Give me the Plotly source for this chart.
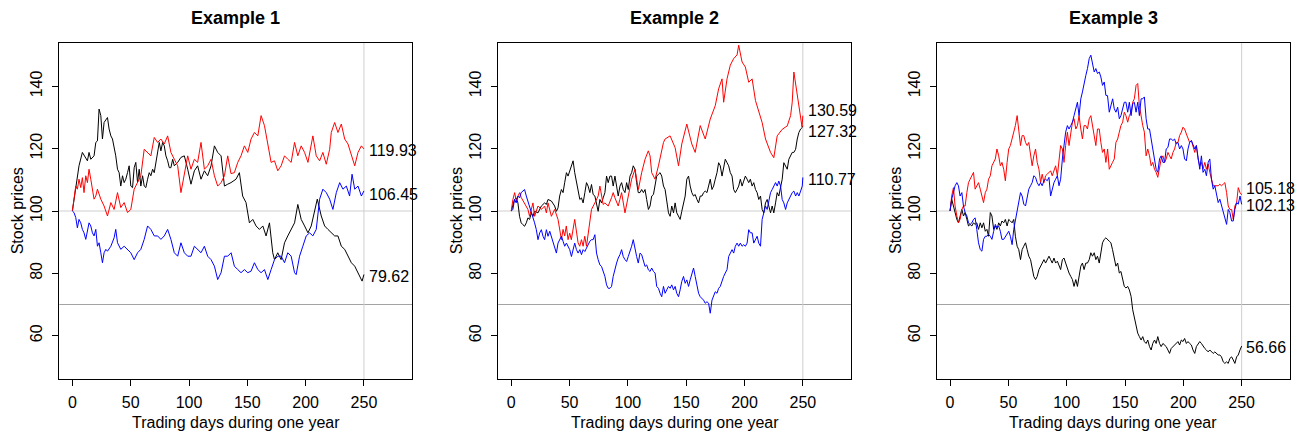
import plotly.graph_objects as go

# ---------------- data ----------------
# Example 1
p1_black_days = [0, 2.9, 5.7, 8.6, 11.5, 12.9, 14.3, 15.8, 18.6, 20.1,
    21.5, 22.9, 24.4, 25.8, 27.2, 28.7, 30.1, 31.5, 33, 34.4,
    35.8, 37.2, 38.7, 40.1, 41.5, 43, 44.4, 45.8, 47.3, 48.7,
    50.1, 51.6, 53, 54.4, 55.9, 57.3, 58.7, 60.2, 61.6, 63,
    64.5, 65.9, 67.3, 68.8, 70.2, 71.6, 73.1, 74.5, 75.9, 77.4,
    78.8, 80.2, 81.7, 83.1, 84.5, 86, 87.4, 90.3, 93.1, 96,
    98.9, 101.7, 104.6, 107.4, 110.3, 113.2, 116, 118.9, 121.8, 124.6,
    127.5, 128.9, 130.4, 133.2, 136, 140.3, 143.2, 146, 148.9, 151.8,
    154.7, 157.5, 160.4, 163.3, 166.1, 169, 171.8, 173.3, 176.1, 179,
    181.9, 184.7, 187.6, 190.5, 193.3, 196.2, 199.1, 202, 204.8, 207.7,
    210, 213.4, 216.3, 219.1, 222, 224.9, 227.7, 230.6, 233.5, 236.3,
    239.2, 242.1, 244.9, 248.4, 250]
p1_black_vals = [100, 107, 114.5, 118.8, 117.2, 116.1, 118.8, 116.6, 117.7, 122,
    122.5, 132.7, 130.6, 123.1, 128.4, 129.5, 130, 126.3, 124.1, 123.1,
    120.9, 117.7, 113.4, 112.3, 108, 111.3, 109.1, 110.2, 112.3, 114.5,
    108, 107.5, 113.9, 115.6, 109.1, 113.4, 108, 111.3, 108, 107.5,
    110.2, 112.3, 111.3, 113.4, 112.3, 115.6, 119.3, 122, 119.3, 122,
    120.9, 117.7, 116.1, 113.9, 113.9, 116.6, 114.5, 115.6, 117.2, 117.7,
    113.4, 108.6, 112.9, 114.5, 110.2, 112.9, 111.3, 114.5, 120.9, 118.8,
    117.7, 113.4, 108, 108.6, 109.1, 110.2, 112.3, 104.8, 102.7, 96.2,
    97.3, 95.2, 94.1, 95.2, 92, 96.2, 86.6, 84.4, 86.6, 84.4,
    89.8, 92, 94.1, 96.2, 102.1, 97.3, 95.2, 93, 95.2, 100.5,
    103.8, 98.4, 95.2, 94.1, 93, 92, 92, 88.7, 87.7, 85.5,
    83.4, 82.3, 80.2, 77.5, 79.62]

p1_red_days = [0, 1.4, 2.9, 4.3, 5.7, 7.2, 8.6, 10, 11.5, 12.9,
    14.3, 15.8, 17.2, 18.6, 20.1, 21.5, 24.4, 27.2, 30.1, 33,
    35.8, 38.7, 41.5, 44.4, 47.3, 50.1, 53, 55.9, 58.7, 61.6,
    64.5, 67.3, 70.2, 73.1, 75.9, 78.8, 81.7, 84.5, 87.4, 90.3,
    93.1, 96, 98.9, 101.7, 104.6, 107.4, 110.3, 113.2, 116, 118.9,
    121.8, 124.6, 127.5, 130.4, 133.2, 136, 138.9, 141.8, 144.6, 147.5,
    150.4, 153.2, 156.1, 159, 161.8, 164.7, 167.6, 170.4, 173.3, 176.1,
    179, 181.9, 184.7, 187.6, 190.5, 193.3, 196.2, 199.1, 202, 204.8,
    206.2, 209.1, 212, 214.8, 217.7, 220.6, 222, 224.9, 227.7, 230.6,
    233.5, 236.3, 239.2, 242.1, 244.9, 247.8, 250]
p1_red_vals = [100, 103.8, 108, 107, 110.2, 107.5, 110.7, 105.9, 111.3, 109.1,
    113.4, 110.2, 107, 103.8, 104.8, 107, 103.8, 101.6, 98.4, 102.7,
    100.5, 105.9, 101.1, 102.7, 99.5, 100.5, 107, 109.1, 111.3, 119.8,
    118.8, 117.7, 123.6, 122, 123.1, 121.5, 124.1, 118.8, 116.6, 114.5,
    105.9, 112.3, 117.7, 113.4, 116.6, 115.6, 122, 113.4, 114.5, 116.6,
    111.3, 108, 109.1, 111.3, 117.7, 112, 112.3, 115.6, 117.7, 120.9,
    118.8, 123.1, 125.2, 124.1, 130.6, 127.4, 122, 115.6, 116.1, 112.9,
    114.5, 117.7, 116.6, 115.6, 122, 117.7, 120.9, 118.8, 115.6, 120.9,
    124.1, 117.7, 116.1, 118.8, 115, 119.8, 125.2, 128.4, 125.2, 127.9,
    123.1, 121.5, 117.7, 114.5, 118.8, 120.9, 119.93]

p1_blue_days = [0, 1.4, 2.9, 4.3, 5.7, 7.2, 8.6, 10, 11.5, 12.9,
    14.3, 15.8, 17.2, 18.6, 20.1, 21.5, 22.9, 24.4, 25.8, 27.2,
    28.7, 30.1, 33, 35.8, 37.2, 38.7, 41.5, 44.4, 47.3, 50.1,
    53, 55.9, 58.7, 61.6, 64.5, 67.3, 70.2, 73.1, 75.9, 78.8,
    81.7, 84.5, 87.4, 90.3, 93.1, 96, 98.9, 101.7, 104.6, 107.4,
    110.3, 113.2, 116, 118.9, 121.8, 124.6, 127.5, 130.4, 133.2, 136.1,
    138.9, 141.8, 144.6, 147.5, 150.4, 153.2, 156.1, 159, 161.8, 164.7,
    167.6, 170.4, 173.3, 176.1, 179, 181.9, 184.7, 187.6, 190.5, 191.9,
    194.8, 197.6, 200.5, 203.4, 206.2, 209.1, 212, 214.8, 217.7, 220.6,
    223.4, 226.3, 229.2, 232, 234.9, 237.7, 239.8, 242.1, 244.9, 247.8,
    250]
p1_blue_vals = [100, 99.5, 97.9, 94.6, 97.3, 96.2, 94.1, 93, 90.9, 94.1,
    96.2, 95.2, 93, 92, 94.1, 88.7, 89.8, 86.6, 83.4, 86.6,
    87.7, 87.1, 88.7, 91.4, 94.1, 89.8, 87.7, 88.7, 87.7, 86.6,
    84.4, 86.6, 87.7, 90.9, 95.2, 94.1, 92, 92, 90.9, 92,
    94.1, 90.9, 86.6, 85.5, 89.8, 86.6, 85.5, 85.5, 88.7, 87.7,
    86.6, 88.7, 85.5, 84.4, 82.3, 78, 80.2, 85.5, 85.5, 86.6,
    82.3, 81.2, 80.2, 81.2, 80.2, 80.7, 83.4, 81.2, 80.2, 81.2,
    78, 81.2, 84.4, 85.5, 85.5, 83.4, 86.6, 85.5, 80.2, 79.6,
    85.5, 88.7, 92, 93, 92, 94.1, 103.8, 107, 105.9, 103.8,
    100.5, 105.9, 109.1, 107, 108, 104.8, 111.8, 107, 108, 104.8,
    106.45]

# Example 2
p2_black_days = [0, 1.4, 2.8, 4.2, 5.7, 7.1, 8.5, 10, 11.4, 12.9,
    14.3, 15.7, 17.2, 18.6, 20, 22.9, 25.8, 28.6, 30.1, 31.5,
    34.4, 37.2, 38.7, 40.1, 41.5, 43, 44.4, 45.8, 47.3, 48.7,
    50.1, 51.6, 53, 54.4, 55.9, 57.3, 58.8, 60.2, 61.6, 63.1,
    64.5, 65.9, 67.4, 68.8, 70.2, 71.7, 73.1, 74.5, 76, 77.4,
    78.8, 80.3, 81.7, 83.1, 84.6, 86, 87.4, 88.9, 90.3, 91.7,
    93.2, 94.6, 96, 97.5, 98.9, 100.3, 101.8, 103.2, 104.6, 106.1,
    107.5, 108.9, 110.4, 111.8, 113.3, 114.7, 116.1, 117.6, 119, 120.4,
    121.9, 123.3, 124.7, 126.2, 127.6, 129, 130.5, 131.9, 134.8, 136.2,
    137.6, 139.1, 140.5, 141.9, 143.4, 144.8, 146.2, 147.7, 149.1, 150.5,
    152, 153.4, 154.8, 156.3, 157.7, 159.2, 160.6, 162, 163.5, 164.9,
    166.3, 167.8, 169.2, 170.6, 172.1, 173.5, 174.9, 176.4, 177.8, 179.2,
    180.7, 182.1, 183.5, 185, 186.4, 187.8, 189.3, 190.7, 192.1, 193.6,
    195, 196.4, 197.9, 199.3, 200.7, 202.2, 203.6, 205, 206.5, 207.9,
    209.4, 210.8, 212.2, 213.7, 215.1, 216.5, 218, 219.4, 220.8, 222.3,
    223.7, 225.1, 226.6, 228, 229.4, 230.9, 232.3, 233.7, 235.2, 236.6,
    238, 239.5, 240.9, 242.3, 243.8, 245.2, 246.6, 248.1, 249.5, 250]
p2_black_vals = [100, 102.1, 103.7, 104.2, 102.6, 98.3, 96.2, 95.6, 95.1, 96.2,
    97.8, 97.3, 99.4, 98.3, 99.9, 99.4, 101.6, 102.6, 102.1, 103.7,
    103.2, 101.6, 99.9, 101, 104.8, 106.9, 105.9, 109.1, 112.3, 111.2,
    112.8, 114.5, 116.1, 112.3, 109.1, 106.9, 103.7, 104.2, 102.6, 105.9,
    109.1, 108, 105.9, 108.5, 105.3, 104.8, 102.6, 99.9, 103.7, 102.6,
    104.2, 105.9, 111.2, 109.1, 111.2, 111.2, 108, 111.2, 108, 104.8,
    108, 109.1, 106.9, 105.9, 109.1, 106.9, 111.2, 112.3, 114.5, 113.4,
    109.1, 105.9, 105.9, 106.9, 105.9, 106.9, 103.7, 100.5, 101.6, 104.8,
    105.3, 108, 111.2, 111.8, 112.3, 111.2, 108, 106.9, 99.4, 98.3,
    101.6, 99.4, 102.6, 99.4, 98.3, 97.3, 99.9, 102.6, 104.8, 110.2,
    111.2, 108, 105.9, 104.8, 105.3, 103.7, 102.6, 104.8, 104.8, 105.9,
    106.4, 105.9, 108, 110.2, 106.9, 108, 110.2, 112.3, 115.5, 114.5,
    111.2, 114.5, 116.6, 115.5, 114.5, 112.3, 111.2, 106.9, 105.9, 106.9,
    108, 110.2, 108, 109.6, 111.2, 110.2, 109.1, 110.2, 108, 109.1,
    106.9, 105.9, 103.7, 104.8, 100.5, 99.4, 102.6, 103.7, 101.6, 99.4,
    101.6, 99.4, 102.6, 105.9, 104.8, 108, 110.2, 115.5, 114.5, 113.4,
    116.6, 117.7, 118.8, 118.8, 119.8, 123.1, 125.2, 126.3, 126.8, 127.32]

p2_red_days = [0, 1.4, 2.9, 4.3, 5.7, 7.2, 8.6, 11.5, 14.3, 15.7,
    17.2, 18.6, 20, 21.5, 22.9, 25.8, 28.6, 30.1, 31.5, 34.4,
    37.2, 40.1, 41.5, 43, 44.4, 45.8, 47.2, 48.7, 50.1, 51.5,
    54.4, 55.9, 57.3, 58.7, 60.2, 61.6, 63, 64.5, 65.9, 67.3,
    68.8, 71.7, 74.5, 76, 77.4, 78.8, 80.3, 83.1, 86, 87.4,
    88.8, 91.7, 93.1, 94.6, 97.5, 100.3, 103.2, 106.1, 109, 111.8,
    114.7, 117.5, 119, 120.4, 123.3, 126.2, 129, 130.5, 131.9, 136.2,
    140.5, 143.4, 146.2, 150.5, 154.8, 157.7, 162, 166.3, 170.6, 174.9,
    177.8, 180.7, 182.1, 185, 187.8, 190.7, 193.6, 195, 197.9, 200.7,
    203.6, 206.5, 209.4, 215.1, 218, 222.3, 225.1, 228, 232.3, 236.6,
    239.5, 240.9, 242.3, 245.2, 248.1, 249.3, 250]
p2_red_vals = [100, 103.7, 105.9, 103.2, 104.8, 105.9, 104.3, 102.1, 100.5, 98.3,
    100.5, 102.6, 98.3, 100, 101.6, 100.5, 101.6, 99.4, 102.6, 98.3,
    100.5, 97.3, 93.6, 90.8, 94.1, 92, 95.2, 90.8, 92.9, 90.8,
    97.3, 93, 89.8, 88.7, 90.8, 88.7, 91.9, 88.7, 93, 97.3,
    100.5, 102.6, 104.8, 108, 104.8, 102.1, 102.6, 101.6, 104.3, 105.9,
    104.3, 101.6, 103.7, 105.9, 99.4, 104.8, 110.2, 113.4, 106.9, 112.3,
    116.6, 119.3, 117.7, 112.3, 110.2, 114.5, 118.8, 122, 123.1, 124.1,
    120.3, 114.5, 121.5, 127.9, 121.5, 118.8, 127.4, 123.1, 129.5, 133.8,
    139.2, 142.4, 134.9, 142.4, 146.8, 148.9, 150.1, 153.2, 147.8, 146.2,
    141.3, 142.4, 135.4, 128.4, 123.1, 118.8, 117.1, 124.1, 126.2, 127.3,
    130.6, 134.9, 144.6, 137.1, 130.6, 127, 130.59]

p2_blue_days = [0, 1.4, 2.8, 4.2, 5.7, 7.1, 8.5, 10, 11.4, 12.9,
    14.3, 15.7, 17.2, 18.6, 20, 21.5, 22.9, 24.4, 25.8, 27.2,
    28.6, 30.1, 31.5, 33, 34.4, 35.8, 37.2, 38.7, 40.1, 41.5,
    43, 44.4, 45.8, 47.3, 48.7, 50.1, 51.6, 53, 54.4, 55.9,
    57.3, 58.8, 60.2, 61.6, 63.1, 64.5, 65.9, 67.4, 68.8, 70.2,
    71.7, 73.1, 74.5, 76, 77.4, 78.8, 80.3, 81.7, 83.1, 84.6,
    86, 87.4, 88.9, 90.3, 91.7, 93.2, 94.6, 96, 97.5, 98.9,
    100.3, 101.8, 103.2, 104.6, 106.1, 107.5, 108.9, 110.4, 111.8, 113.3,
    114.7, 116.1, 117.6, 119, 120.4, 121.9, 123.3, 124.7, 126.2, 127.6,
    129, 130.5, 131.9, 133.3, 134.8, 136.2, 137.6, 139.1, 140.5, 141.9,
    143.4, 144.8, 146.2, 147.7, 149.1, 150.5, 152, 153.4, 154.8, 156.3,
    157.7, 159.2, 160.6, 162, 163.5, 164.9, 166.3, 167.8, 169.2, 170.6,
    172.1, 173.5, 174.9, 176.4, 177.8, 179.2, 180.7, 182.1, 183.5, 185,
    186.4, 187.8, 189.3, 190.7, 192.1, 193.6, 195, 196.4, 197.9, 199.3,
    200.7, 202.2, 203.6, 205, 206.5, 207.9, 209.4, 210.8, 212.2, 213.7,
    215.1, 216.5, 218, 219.4, 220.8, 222.3, 223.7, 225.1, 226.6, 228,
    229.4, 230.9, 232.3, 233.7, 235.2, 236.6, 238, 239.5, 240.9, 242.3,
    243.8, 245.2, 246.6, 248.1, 249.5, 250]
p2_blue_vals = [100, 100.5, 103.7, 102.6, 104.8, 104.2, 105.9, 106.4, 106.9, 104.8,
    103.2, 101.6, 99.9, 98.3, 96.2, 94, 90.8, 93, 94, 91.9,
    90.8, 94, 91.9, 93.5, 91.9, 89.7, 88.7, 86.5, 89.7, 90.8,
    91.9, 90.3, 88.7, 89.7, 88.7, 87.6, 85.4, 87.6, 89.7, 87.6,
    86.5, 87.6, 86, 87.6, 87, 88.1, 89.2, 90.3, 90.8, 90.8,
    92.4, 86.5, 84.4, 82.7, 82.2, 80.6, 79, 76.3, 75.2, 75.2,
    75.8, 79, 81.7, 83.3, 84.9, 86, 87.6, 85.4, 84.4, 83.8,
    85.4, 87, 88.7, 90.8, 87.6, 85.4, 83.3, 86.5, 86, 84.4,
    82.2, 82.7, 81.1, 80.6, 81.7, 80.6, 80.1, 75.8, 75.2, 73.6,
    72.5, 75.8, 73.6, 74.7, 75.8, 75.2, 76.3, 74.7, 75.8, 73.6,
    72.5, 74.7, 77.4, 79, 76.8, 77.9, 75.8, 77.9, 80.1, 81.7,
    79, 75.8, 73.6, 72.5, 72, 71.4, 70.4, 70.9, 70.4, 67.2,
    71.4, 72.5, 74.1, 73.6, 75.2, 75.8, 77.9, 79, 80.1, 81.2,
    85.4, 86.5, 87.6, 86.5, 88.7, 89.7, 88.7, 89.7, 88.7, 89.2,
    88.7, 89.7, 94, 93, 93, 89.7, 90.8, 91.9, 89.7, 88.7,
    97.3, 99.4, 101.6, 100.5, 103.7, 105.9, 106.9, 108, 109.1, 108,
    109.6, 108, 103.7, 102.6, 100.5, 102.6, 103.7, 104.8, 105.9, 106.4,
    104.8, 105.9, 104.8, 106.4, 108, 110.77]

# Example 3
p3_black_days = [0, 1.4, 2.9, 4.3, 5.8, 7.2, 8.6, 10.1, 11.5, 12.9,
    14.4, 15.8, 17.2, 18.7, 20.1, 21.5, 22.9, 24.4, 25.9, 27.3,
    28.7, 30.2, 31.6, 33, 34.5, 35.9, 37.4, 38.8, 40.2, 41.7,
    43.1, 44.5, 46, 47.4, 48.9, 50.3, 51.7, 53.2, 54.6, 56,
    57.5, 58.9, 60.4, 61.8, 63.2, 64.7, 66.1, 67.5, 69, 70.4,
    71.8, 73.3, 74.7, 76.2, 77.6, 79, 80.5, 81.9, 83.3, 84.8,
    86.2, 87.6, 89.1, 90.5, 92, 93.4, 94.8, 96.3, 97.7, 99.1,
    100.6, 102, 103.5, 104.9, 106.3, 107.8, 109.2, 110.6, 112.1, 113.5,
    114.9, 116.4, 117.8, 119.3, 120.7, 122.1, 123.6, 125, 126.4, 127.9,
    129.3, 130.7, 132.2, 133.6, 136.5, 137.9, 139.3, 140.8, 142.2, 143.7,
    145.1, 146.5, 148, 149.4, 150.8, 152.3, 153.7, 155.2, 156.6, 158,
    159.5, 160.9, 162.3, 163.8, 165.2, 166.6, 168.1, 169.5, 171, 172.4,
    173.8, 175.3, 176.7, 178.1, 179.6, 181, 182.5, 183.9, 185.3, 186.8,
    188.2, 189.6, 191.1, 192.5, 193.9, 195.4, 196.8, 198.3, 199.7, 201.1,
    202.6, 204, 205.4, 206.9, 208.3, 209.8, 211.2, 212.6, 214.1, 215.5,
    216.9, 218.4, 219.8, 221.3, 222.7, 224.1, 225.6, 227, 228.4, 229.9,
    231.3, 232.7, 234.2, 235.6, 237.1, 238.5, 239.9, 241.4, 242.8, 244.2,
    245.7, 247.1, 248.6, 250]
p3_black_vals = [100, 103.8, 101.6, 99.5, 97.3, 96.2, 98.4, 100.5, 98.4, 99.5,
    97.3, 95.2, 95.7, 95.2, 96.2, 95.7, 96.2, 94.1, 96.2, 94.6,
    96.2, 93.5, 94.1, 91.9, 99.5, 98.4, 94.1, 95.2, 94.1, 96.2,
    95.2, 96.8, 96.2, 97.3, 95.2, 97.3, 96.8, 96.2, 97.3, 91.9,
    88.7, 87.6, 84.4, 87.6, 88.7, 89.8, 87.6, 85.5, 84.4, 81.2,
    79, 78, 79, 81.2, 82.3, 83.3, 84.4, 83.3, 84.4, 85.5,
    84.4, 83.3, 84.9, 83.3, 83.9, 82.3, 81.2, 84.4, 84.9, 83.3,
    81.2, 80.1, 79, 78, 75.8, 78, 75.8, 79, 82.3, 83.3,
    81.2, 83.3, 83.3, 84.4, 86.6, 85.5, 86.6, 84.4, 85.5, 83.3,
    86.6, 89.8, 90.9, 91.4, 90.3, 89.8, 87.6, 84.4, 82.3, 83.3,
    80.1, 80.6, 78, 75.8, 75.3, 75.8, 74.7, 72.6, 68.3, 66.1,
    62.9, 60.8, 59.7, 58.6, 59.7, 58.1, 57.5, 58.6, 56.5, 55.4,
    57.5, 58.6, 57.5, 59.7, 57.5, 56.5, 57.5, 57, 56.5, 55.4,
    54.3, 55.9, 56.5, 57, 57.5, 58.1, 57, 58.6, 58.1, 59.1,
    57.5, 58.1, 57.5, 57, 55.4, 54.3, 56.5, 57.5, 58.1, 57.5,
    56.5, 55.9, 55.4, 54.8, 55.4, 54.8, 54.3, 54.8, 54.3, 53.8,
    53.8, 53.2, 51.6, 51.1, 51.6, 51.1, 52.7, 53.2, 52.2, 51.1,
    53.2, 53.8, 55.4, 56.66]

p3_red_days = [0, 1.4, 2.9, 4.3, 5.8, 7.2, 8.6, 10.1, 11.5, 12.9,
    14.4, 15.8, 17.2, 18.7, 20.1, 21.5, 22.9, 24.4, 25.9, 27.3,
    28.7, 30.2, 31.6, 33, 34.5, 35.9, 37.4, 38.8, 40.2, 41.7,
    43.1, 44.5, 46, 47.4, 48.9, 50.3, 51.7, 53.2, 54.6, 56,
    57.5, 58.9, 60.4, 61.8, 63.2, 64.7, 66.1, 67.5, 69, 70.4,
    71.8, 73.3, 74.7, 76.2, 77.6, 79, 80.5, 81.9, 83.3, 84.8,
    86.2, 87.6, 89.1, 90.5, 92, 93.4, 94.8, 96.3, 97.7, 99.1,
    100.6, 102, 103.5, 104.9, 106.3, 107.8, 109.2, 110.6, 112.1, 113.5,
    114.9, 116.4, 117.8, 119.3, 120.7, 122.1, 123.6, 125, 126.4, 127.9,
    129.3, 130.7, 132.2, 133.6, 135.1, 136.5, 139.3, 140.8, 142.2, 143.7,
    145.1, 146.5, 148, 149.4, 150.8, 152.3, 153.7, 155.2, 156.6, 158,
    159.5, 160.9, 162.3, 163.8, 165.2, 166.6, 168.1, 169.5, 171, 172.4,
    173.8, 175.3, 176.7, 178.1, 179.6, 181, 182.5, 183.9, 185.3, 186.8,
    188.2, 189.6, 191.1, 192.5, 193.9, 195.4, 196.8, 198.3, 199.7, 201.1,
    202.6, 204, 205.4, 206.9, 208.3, 209.8, 211.2, 212.6, 214.1, 215.5,
    216.9, 218.4, 219.8, 221.3, 222.7, 224.1, 225.6, 227, 228.4, 229.9,
    231.3, 232.7, 234.2, 235.6, 237.1, 238.5, 239.9, 241.4, 242.8, 244.2,
    245.7, 247.1, 248.6, 250]
p3_red_vals = [100, 104.8, 107.5, 101.6, 98.4, 96.2, 97.3, 100.5, 101.6, 101.6,
    105.9, 109.1, 110.2, 111.3, 112.4, 107, 108.1, 109.1, 107, 104.8,
    102.7, 105.9, 107, 110.2, 111.3, 114.5, 115.6, 116.7, 119.9, 117.7,
    114.5, 115.6, 113.4, 109.7, 115.6, 119.9, 121, 123.1, 125.3, 127.4,
    130.6, 126.3, 121, 124.2, 124.2, 122, 121, 122, 118.8, 114.5,
    117.7, 119.9, 115.6, 113.4, 109.1, 111.8, 109.1, 111.3, 111.8, 112.4,
    112.9, 111.3, 113.4, 114.5, 111.3, 116.7, 121, 119.9, 115.6, 121,
    125.3, 121, 125.3, 128.5, 129.6, 126.3, 127.4, 130.6, 126.3, 123.1,
    127.4, 127.4, 126.3, 129.6, 130.6, 127.4, 124.2, 121, 126.3, 126.3,
    122, 118.8, 119.9, 115.6, 119.9, 113.4, 115.6, 116.7, 122, 123.1,
    125.3, 127.4, 128.5, 131.7, 130.6, 128.5, 130.6, 131.7, 134.9, 136,
    140.3, 140.9, 133.9, 129.6, 127.4, 125.3, 117.7, 119.9, 117.7, 114.5,
    115.6, 113.4, 112.4, 110.8, 114.5, 116.7, 117.7, 115.6, 116.7, 118.8,
    117.7, 116.7, 118.8, 119.9, 122, 122, 124.2, 125.3, 126.9, 126.3,
    124.7, 123.1, 122, 122.6, 121, 118.8, 121, 116.7, 114.5, 115.6,
    113.4, 115.6, 113.4, 115.1, 112.4, 110.2, 108.1, 108.1, 108.1, 108.1,
    108.6, 108.1, 108.6, 109.1, 105.9, 101.6, 100.5, 100.5, 97.3, 101.6,
    102.7, 107.5, 105.9, 105.18]

p3_blue_days = [0, 1.4, 2.9, 4.3, 5.8, 7.2, 8.6, 10.1, 11.5, 12.9,
    14.4, 15.8, 17.2, 18.7, 20.1, 21.5, 22.9, 24.4, 25.9, 27.3,
    28.7, 30.2, 31.6, 33, 34.5, 35.9, 37.4, 38.8, 40.2, 41.7,
    43.1, 44.5, 46, 47.4, 48.9, 50.3, 51.7, 53.2, 54.6, 56,
    57.5, 58.9, 60.4, 61.8, 63.2, 64.7, 66.1, 67.5, 69, 70.4,
    71.8, 73.3, 74.7, 76.2, 77.6, 79, 80.5, 81.9, 83.3, 84.8,
    86.2, 87.6, 89.1, 90.5, 92, 93.4, 94.8, 96.3, 97.7, 99.1,
    100.6, 102, 103.5, 104.9, 106.3, 107.8, 109.2, 110.6, 112.1, 113.5,
    114.9, 116.4, 117.8, 119.3, 120.7, 122.1, 123.6, 125, 126.4, 127.9,
    129.3, 130.7, 132.2, 133.6, 135, 136.5, 137.9, 139.4, 140.8, 142.2,
    143.7, 145.1, 146.5, 148, 149.4, 150.8, 152.3, 153.7, 155.2, 156.6,
    158, 159.5, 160.9, 162.3, 163.8, 165.2, 166.6, 168.1, 169.5, 171,
    172.4, 173.8, 175.3, 176.7, 178.1, 179.6, 181, 182.5, 183.9, 185.3,
    186.8, 188.2, 189.6, 191.1, 192.5, 193.9, 195.4, 196.8, 198.3, 199.7,
    201.1, 202.6, 204, 205.4, 206.9, 208.3, 209.8, 211.2, 212.6, 214.1,
    215.5, 216.9, 218.4, 219.8, 221.3, 222.7, 224.1, 225.6, 227, 228.4,
    229.9, 231.3, 232.7, 234.2, 235.6, 237.1, 238.5, 239.9, 241.4, 242.8,
    244.2, 245.7, 247.1, 248.6, 250]
p3_blue_vals = [100, 103.8, 105.9, 108.1, 109.1, 108.1, 104.8, 105.9, 101.6, 99.5,
    98.4, 96.2, 95.7, 96.2, 97.3, 97.8, 94.1, 89.8, 87.6, 87.1,
    90.9, 91.9, 91.9, 92.5, 91.9, 90.9, 93.5, 95.7, 94.6, 95.2,
    93.5, 90.9, 90.9, 91.9, 92.5, 93.5, 91.9, 89.2, 94.1, 97.3,
    100.5, 103.8, 105.9, 104.8, 102.2, 101.6, 104.8, 107, 108.1, 109.1,
    111.3, 110.8, 109.1, 108.1, 109.1, 108.1, 109.7, 110.2, 109.7, 110.8,
    104.8, 107, 109.1, 110.2, 111.3, 108.1, 110.2, 116.7, 122, 125.3,
    127.4, 126.3, 127.4, 128.5, 130.6, 132.8, 134.9, 130.6, 136, 138.2,
    140.3, 143.5, 145.7, 148.9, 150, 146.8, 144.6, 145.7, 144.1, 144.6,
    143, 140.3, 141.4, 137.1, 137, 131.7, 133.9, 136, 132.8, 131.7,
    133.3, 129.6, 130.6, 133.3, 134.9, 134.9, 131.7, 134.9, 130.6, 134.4,
    134.9, 131.7, 134.9, 130.6, 136, 136, 136.6, 129.6, 126.3, 126.3,
    123.1, 118.8, 115.6, 113.4, 112.4, 116.7, 117.7, 115.6, 115.6, 119.9,
    120.4, 123.1, 123.1, 122.6, 123.1, 121.5, 122, 119.9, 121, 119.9,
    116.7, 116.1, 119.9, 122, 122.6, 121, 119.9, 121, 117.7, 113.4,
    117.7, 112.4, 113.4, 111.3, 115.6, 116.7, 110.2, 107, 108.1, 104.8,
    102.7, 103.8, 101.6, 99.5, 97.3, 95.7, 100.5, 99.5, 96.8, 96.8,
    100.5, 102.7, 102.2, 104.8, 102.13]

panel_titles = ["Example 1", "Example 2", "Example 3"]
x_title = "Trading days during one year"
y_title = "Stock prices"
x_ticks = [0, 50, 100, 150, 200, 250]
y_ticks = [60, 80, 100, 120, 140]
ref_levels = [100, 70]
last_day = 250

panels = [
    [("black", p1_black_days, p1_black_vals), ("red", p1_red_days, p1_red_vals),
     ("blue", p1_blue_days, p1_blue_vals)],
    [("black", p2_black_days, p2_black_vals), ("red", p2_red_days, p2_red_vals),
     ("blue", p2_blue_days, p2_blue_vals)],
    [("black", p3_black_days, p3_black_vals), ("red", p3_red_days, p3_red_vals),
     ("blue", p3_blue_days, p3_blue_vals)],
]
# small vertical nudges (in price units) so end labels do not collide
label_nudge = [
    {"black": -0.5, "red": -0.5, "blue": -1.3},
    {"black": -1.9, "red": 1.5, "blue": -0.6},
    {"black": -0.5, "red": 2.2, "blue": -0.5},
]

for p in panels:
    for c, d, v in p:
        if len(d) != len(v):
            raise ValueError(f"length mismatch {c}: {len(d)} vs {len(v)}")

# ---------------- layout geometry ----------------
W, H = 1298, 435
box_left = [59.3, 498.2, 937.0]
box_w = 352.7
box_top, box_bot = 42.7, 379.3
FONT = "Liberation Sans, Arial, Helvetica, sans-serif"

fig = go.Figure()
annotations = []
shapes = []
ydom = [(H - box_bot) / H, (H - box_top) / H]

for i, series in enumerate(panels):
    n = "" if i == 0 else str(i + 1)
    xa, ya = "x" + n, "y" + n
    for color, days, vals in series:
        fig.add_trace(go.Scatter(x=days, y=vals, mode="lines",
                                 line=dict(color=color, width=1),
                                 xaxis=xa, yaxis=ya, showlegend=False,
                                 hoverinfo="x+y"))
        annotations.append(dict(x=last_day + 2.3, y=vals[-1] + label_nudge[i][color],
                                xref=xa, yref=ya, text=f"{vals[-1]:.2f}",
                                showarrow=False, xanchor="left", yanchor="middle",
                                font=dict(size=16, color="black", family=FONT)))
    xd = [box_left[i] / W, (box_left[i] + box_w) / W]
    common = dict(showgrid=False, zeroline=False, showline=True, mirror=True,
                  linecolor="black", linewidth=1, ticks="outside", ticklen=6,
                  tickwidth=1, tickcolor="black",
                  tickfont=dict(size=16, color="black", family=FONT))
    fig.layout["xaxis" + n] = dict(domain=xd, range=[-11.2, 291.2], anchor=ya,
                                   tickvals=x_ticks, ticklabelstandoff=2, **common)
    fig.layout["yaxis" + n] = dict(domain=ydom, range=[46, 154], anchor=xa,
                                   tickvals=y_ticks, tickangle=-90,
                                   ticklabelstandoff=4, **common)
    # reference lines
    for lvl in ref_levels:
        shapes.append(dict(type="line", xref=xa + " domain", yref=ya,
                           x0=0, x1=1, y0=lvl, y1=lvl, layer="below",
                           line=dict(color="#cfcfcf" if lvl == 100 else "#a3a3a3", width=1)))
    shapes.append(dict(type="line", xref=xa, yref=ya + " domain", x0=last_day, x1=last_day,
                       y0=0, y1=1, layer="below", line=dict(color="#cfcfcf", width=1)))
    cx = (xd[0] + xd[1]) / 2
    annotations.append(dict(x=cx, y=(H - 18) / H, xref="paper", yref="paper",
                            text=f"<b>{panel_titles[i]}</b>", showarrow=False,
                            xanchor="center", yanchor="middle",
                            font=dict(size=18, color="black", family=FONT)))
    annotations.append(dict(x=cx, y=(H - 422.5) / H, xref="paper", yref="paper",
                            text=x_title, showarrow=False, xanchor="center",
                            yanchor="middle",
                            font=dict(size=16, color="black", family=FONT)))
    annotations.append(dict(x=(box_left[i] - 42) / W, y=(H - 211) / H, xref="paper",
                            yref="paper", text=y_title, textangle=-90, showarrow=False,
                            xanchor="center", yanchor="middle",
                            font=dict(size=16, color="black", family=FONT)))

fig.update_layout(width=W, height=H, margin=dict(l=0, r=0, t=0, b=0),
                  paper_bgcolor="white", plot_bgcolor="white",
                  annotations=annotations, shapes=shapes,
                  font=dict(family=FONT, size=16, color="black"))

fig.write_html("out.html")
